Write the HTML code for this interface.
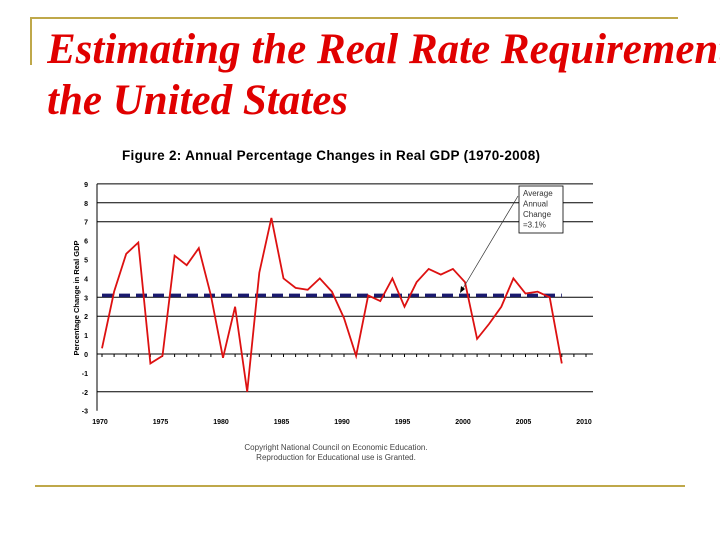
<!DOCTYPE html>
<html><head><meta charset="utf-8"><style>
body{margin:0;width:720px;height:540px;background:#fff;overflow:hidden;position:relative;font-family:"Liberation Sans",sans-serif}
.t{position:absolute;left:47px;width:673px;overflow:hidden;font-family:"Liberation Serif",serif;font-style:italic;font-weight:bold;color:#e00000;font-size:43px;line-height:48px;white-space:nowrap}
</style></head><body>
<div style="position:absolute;left:30px;top:17px;width:648px;height:2px;background:#bfa84a"></div>
<div style="position:absolute;left:30px;top:17px;width:2px;height:48px;background:#bfa84a"></div>
<div class="t" style="top:26px">Estimating the Real Rate Requirement in</div>
<div class="t" style="top:77px">the United States</div>
<div style="position:absolute;left:35px;top:485px;width:650px;height:2px;background:#bfa84a"></div>
<svg width="720" height="540" style="position:absolute;left:0;top:0" id="c"></svg>
<script>
const years=[1970,1971,1972,1973,1974,1975,1976,1977,1978,1979,1980,1981,1982,1983,1984,1985,1986,1987,1988,1989,1990,1991,1992,1993,1994,1995,1996,1997,1998,1999,2000,2001,2002,2003,2004,2005,2006,2007,2008];
const growth=[0.3,3.3,5.3,5.9,-0.5,-0.1,5.2,4.7,5.6,3.1,-0.2,2.5,-2.0,4.3,7.2,4.0,3.5,3.4,4.0,3.3,1.9,-0.1,3.1,2.8,4.0,2.5,3.8,4.5,4.2,4.5,3.8,0.8,1.6,2.5,4.0,3.2,3.3,3.0,-0.5];
const average=[3.1];
const yTicks=[9,8,7,6,5,4,3,2,1,0,-1,-2,-3];
const gridVals=[9,8,7,3,2,0,-2];
const xTicks=[1970,1975,1980,1985,1990,1995,2000,2005,2010];
const NS="http://www.w3.org/2000/svg",svg=document.getElementById('c');
const X=v=>102+(v-1970)*12.1, Y=v=>354-v*18.9;
function el(t,a,p){const e=document.createElementNS(NS,t);for(const k in a)e.setAttribute(k,a[k]);(p||svg).appendChild(e);return e;}
let tt=el('text',{x:331,y:160,'text-anchor':'middle','font-size':13.5,'font-weight':'bold',fill:'#000',textLength:418});tt.textContent='Figure 2: Annual Percentage Changes in Real GDP (1970-2008)';


gridVals.forEach(v=>{const l=el('line',{x1:97,x2:593,y1:Y(v),y2:Y(v),stroke:'#000','stroke-width':1});

});
el('line',{x1:97,x2:97,y1:Y(9),y2:Y(-3),stroke:'#000'});
for(let y=1970;y<=2010;y++){el('line',{x1:X(y),x2:X(y),y1:Y(0),y2:Y(0)+3,stroke:'#000'});}
yTicks.forEach(v=>{const t=el('text',{x:88,y:Y(v)+3,'text-anchor':'end','font-size':7,'font-weight':'bold'});t.textContent=v;

});
xTicks.forEach(v=>{const t=el('text',{x:X(v)-2,y:424,'text-anchor':'middle','font-size':7,'font-weight':'bold'});t.textContent=v;

});
const yt=el('text',{x:0,y:0,transform:'translate(79,298) rotate(-90)','text-anchor':'middle','font-size':7.5,'font-weight':'bold'});yt.textContent='Percentage Change in Real GDP';


const av=el('line',{x1:X(1970),x2:X(2008),y1:Y(average[0]),y2:Y(average[0]),stroke:'#1a1a6e','stroke-width':3.5,'stroke-dasharray':'11,6'});


const ln=el('polyline',{points:years.map((y,i)=>X(y)+','+Y(growth[i])).join(' '),fill:'none',stroke:'#dd1111','stroke-width':1.8});


const bx=el('rect',{x:519,y:186,width:44,height:47,fill:'#fff',stroke:'#000','stroke-width':0.8});


['Average','Annual','Change','=3.1%'].forEach((s,i)=>{const t=el('text',{x:523,y:196+i*10.5,'font-size':8,fill:'#333'});t.textContent=s;

});
const ar=el('line',{x1:518,y1:196,x2:462,y2:290,stroke:'#333','stroke-width':0.7});


el('polygon',{points:'460,293 461,286 465,289',fill:'#000'});
['Copyright National Council on Economic Education.','Reproduction for Educational use is Granted.'].forEach((s,i)=>{const t=el('text',{x:336,y:450+i*10,'text-anchor':'middle','font-size':8,fill:'#444'});t.textContent=s;

});
</script>
</body></html>
